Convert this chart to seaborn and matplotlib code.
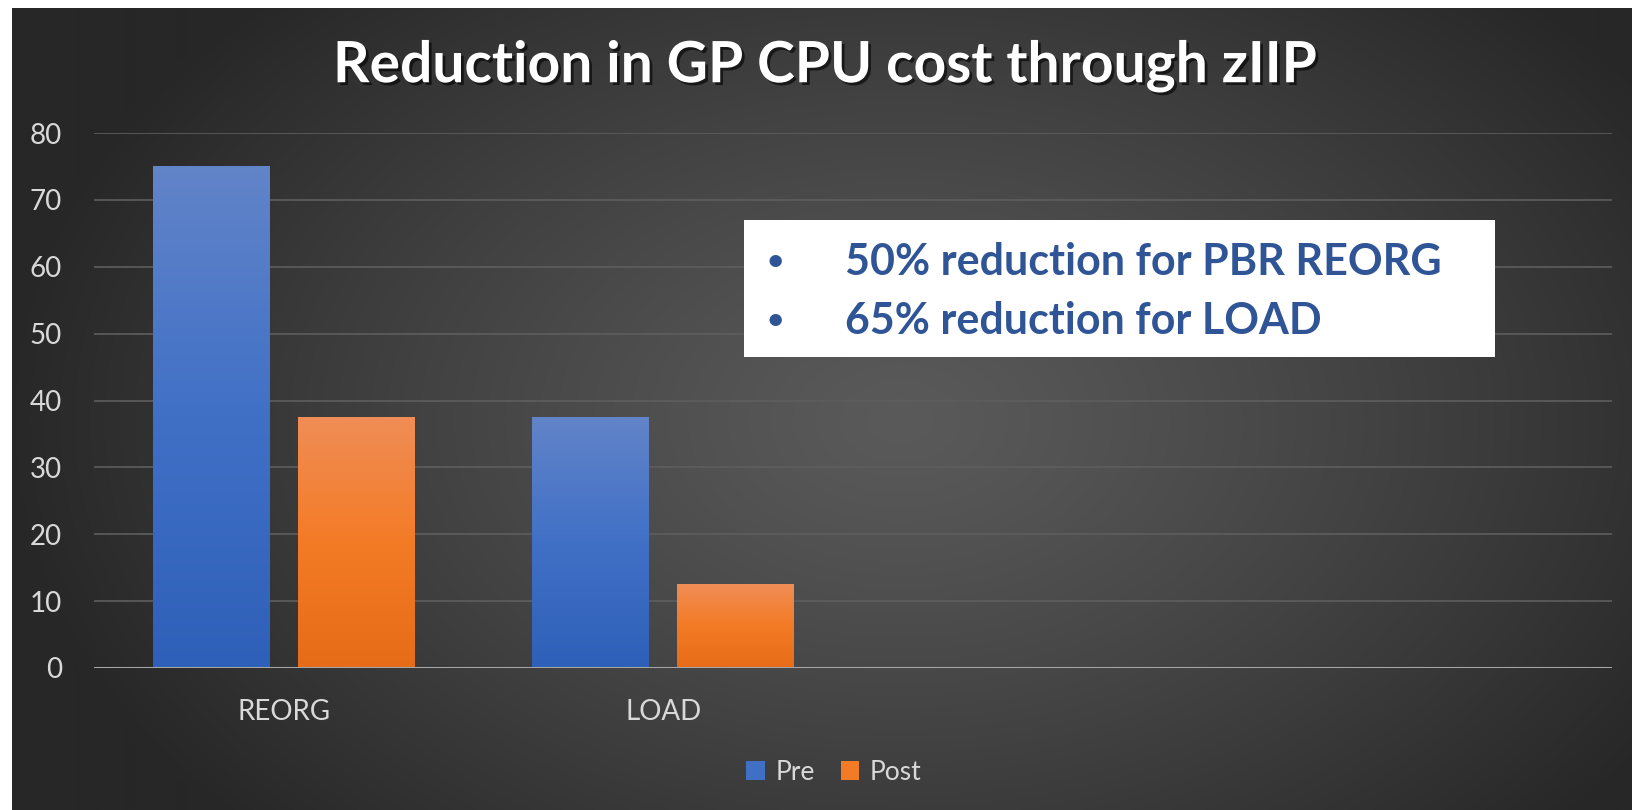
import numpy as np
import pandas as pd
import matplotlib.pyplot as plt
import matplotlib.patheffects as pe
from matplotlib.colors import LinearSegmentedColormap
from matplotlib.patches import Rectangle
import seaborn as sns

# chart data
categories = ["REORG", "LOAD"]
series = ["Pre", "Post"]
pre_values = [75, 37.5]
post_values = [37.5, 12.5]
y_ticks = [0, 10, 20, 30, 40, 50, 60, 70, 80]
title = "Reduction in GP CPU cost through zIIP"
notes = ["50% reduction for PBR REORG", "65% reduction for LOAD"]

df = pd.DataFrame({
    "task": categories * 2,
    "series": [series[0]] * len(categories) + [series[1]] * len(categories),
    "value": pre_values + post_values,
})

sns.set_theme(style="dark")
plt.rcParams['font.family'] = ['Lato', 'DejaVu Sans']

W, H = 1633, 810
fig = plt.figure(figsize=(W / 100, H / 100), dpi=100, facecolor="white")

# dark radial background (white strip left and top like the screenshot)
bg = fig.add_axes([12 / W, 0, 1 - 12 / W, 1 - 8 / H])
yy, xx = np.mgrid[8:H:2, 12:W:2]
d = np.sqrt(((xx - 900) / 900.0) ** 2 + ((yy - 420) / 600.0) ** 2)
lvl = (0x5a - (0x5a - 0x27) * np.clip(d, 0, 1) ** 1.2) / 255.0
bg.imshow(np.dstack([lvl, lvl, lvl]), aspect="auto", interpolation="bilinear")
bg.set_axis_off()

ax = fig.add_axes([94 / W, 1 - 668 / H, (1612 - 94) / W, (668 - 133) / H])
ax.set_facecolor("none")

palette = {"Pre": "#4472c4", "Post": "#ed7d31"}
sns.barplot(data=df, x="task", y="value", hue="series", order=categories,
            hue_order=series, palette=palette, width=0.764, gap=0.194,
            saturation=1, legend=False, ax=ax, zorder=3, linewidth=0, edgecolor="none")

grads = {
    "Pre": LinearSegmentedColormap.from_list("pre", ["#2f60b9", "#4070c6", "#6284c9"]),
    "Post": LinearSegmentedColormap.from_list("post", ["#e66c18", "#f47b26", "#f08d56"]),
}
shade = np.linspace(0, 1, 256).reshape(-1, 1)
for i, bar in enumerate(ax.patches):
    name = series[i // len(categories)]
    x0, w, h = bar.get_x(), bar.get_width(), bar.get_height()
    bar.set_path_effects([pe.SimplePatchShadow(offset=(0, 0), shadow_rgbFace="black", alpha=0.35),
                          pe.Normal()])
    im = ax.imshow(shade, cmap=grads[name], origin="lower", aspect="auto",
                   extent=[x0, x0 + w, 0, h], zorder=4)
    im.set_clip_path(bar)

ax.set_xlim(-0.5, 3.5)
ax.set_ylim(0, 80)
ax.set_yticks(y_ticks)
ax.yaxis.grid(True, color="#5e5e5e", linewidth=1.2)
ax.xaxis.grid(False)
ax.set_axisbelow(True)
for s in ["top", "right", "left", "bottom"]:
    ax.spines[s].set_visible(False)
ax.axhline(0, color="#a6a6a6", linewidth=2.2, zorder=5)
ax.tick_params(axis="both", length=0, colors="#d9d9d9", labelsize=20)
ax.tick_params(axis="x", pad=22)
ax.tick_params(axis="y", pad=23)
ax.set_xlabel("")
ax.set_ylabel("")

fig.text(826 / W, 1 - 66 / H, title, ha="center", va="center", fontsize=41,
         fontweight="bold", color="white",
         path_effects=[pe.withSimplePatchShadow(offset=(2, -2), shadow_rgbFace="black", alpha=0.6)])

# white note box
fig.patches.append(Rectangle((744 / W, 1 - 357 / H), (1495 - 744) / W, (357 - 220) / H,
                             transform=fig.transFigure, facecolor="white", edgecolor="none",
                             zorder=10))
for k, line in enumerate(notes):
    y = 1 - (262 + 59 * k) / H
    fig.text(775 / W, y, "\u2022", ha="center", va="center", fontsize=24,
             color="#2f5597", zorder=11)
    fig.text(845 / W, y, line, ha="left", va="center", fontsize=31, fontweight="bold",
             color="#2f5597", zorder=11)

handles = [Rectangle((0, 0), 1, 1, facecolor=grads[s](0.5), edgecolor="none") for s in series]
fig.legend(handles, series, loc="center", bbox_to_anchor=(834 / W, 1 - 772 / H), ncol=2,
           frameon=False, fontsize=19, labelcolor="#d9d9d9", handlelength=0.7,
           handleheight=0.7, handletextpad=0.4, columnspacing=1.0)

fig.savefig("out.png", dpi=100, facecolor="white")
